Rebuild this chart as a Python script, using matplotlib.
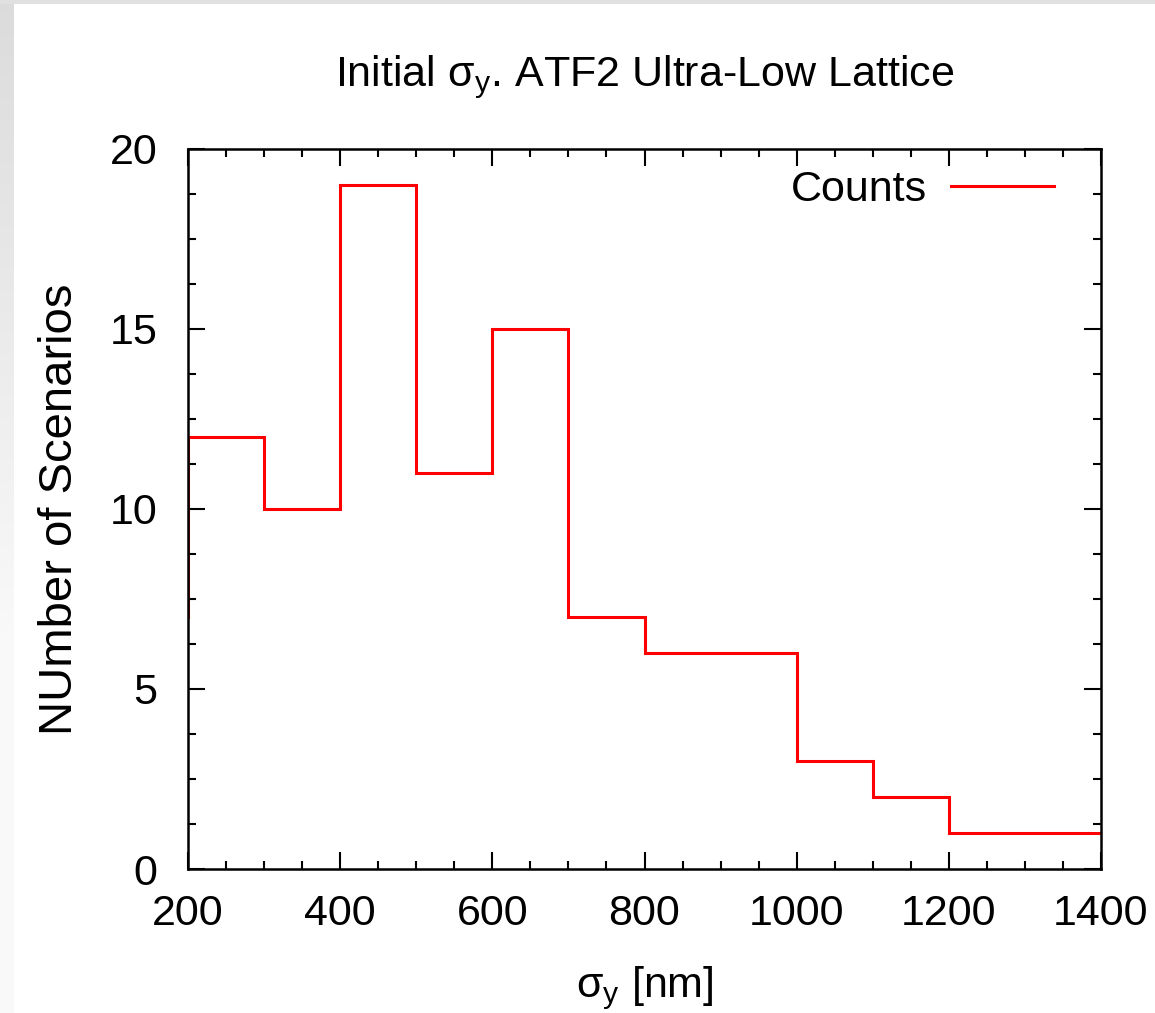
import numpy as np
import matplotlib
matplotlib.use("Agg")
import matplotlib.pyplot as plt
from matplotlib.ticker import MultipleLocator

# data
bin_edges = [100, 200, 300, 400, 500, 600, 700, 800, 900, 1000, 1100, 1200, 1300, 1400]
counts = [7, 12, 10, 19, 11, 15, 7, 6, 6, 3, 2, 1, 1]
x_ticks = [200, 400, 600, 800, 1000, 1200, 1400]
y_ticks = [0, 5, 10, 15, 20]

fam = ['Liberation Sans', 'DejaVu Sans']
plt.rcParams['font.family'] = fam
plt.rcParams['mathtext.fontset'] = 'custom'
plt.rcParams['mathtext.rm'] = 'Liberation Sans'
plt.rcParams['mathtext.it'] = 'Liberation Sans'

FS = 31

fig = plt.figure(figsize=(11.55, 10.13), dpi=100)

# background decoration (grey frame at top and left)
bg = fig.add_axes([0, 0, 1, 1], zorder=-10)
H, W = 1013, 1155
img = np.ones((H, W, 3))
top_h, left_w = 5, 14
img[:top_h, :, :] = 0.88
fade = np.clip(1 - np.arange(H) / 650.0, 0, 1)
for i in range(H):
    g = 1 - 0.12 * fade[i] - 0.02
    img[i, :left_w, :] = min(g, 1.0) if i >= top_h else 0.88
bg.imshow(img, aspect='auto', extent=[0, 1, 0, 1])
bg.axis('off')

ax = fig.add_axes([188 / W, 1 - 869 / H, (1101 - 188) / W, (869 - 149) / H])
ax.stairs(counts, bin_edges, baseline=None, color='#ff0000', lw=2.2, label='Counts')

ax.set_xlim(200, 1400)
ax.set_ylim(0, 20)
ax.set_xticks(x_ticks)
ax.set_yticks(y_ticks)
ax.xaxis.set_minor_locator(MultipleLocator(50))
ax.yaxis.set_minor_locator(MultipleLocator(1.25))
ax.tick_params(which='both', direction='in', top=True, right=True, width=1.5, colors='black')
ax.tick_params(which='major', length=12, labelsize=FS)
ax.tick_params(which='minor', length=6)
ax.tick_params(axis='x', which='major', pad=18)
ax.tick_params(axis='y', which='major', pad=22)
for s in ax.spines.values():
    s.set_linewidth(1.8)

ax.set_title('Initial σ$_{\\mathrm{y}}$. ATF2 Ultra-Low Lattice', fontsize=FS, pad=45)
ax.set_xlabel('σ$_{\\mathrm{y}}$ [nm]', fontsize=FS, labelpad=22)
ax.set_ylabel('NUmber of Scenarios', fontsize=34, labelpad=20)

leg = ax.legend(loc='upper right', frameon=False, markerfirst=False, fontsize=FS,
                handlelength=2.4, borderaxespad=0.4, handletextpad=0.55,
                borderpad=0.3, bbox_to_anchor=(1 - 17 / 913, 1 + 9 / 720))

fig.savefig('out.png', dpi=100)
